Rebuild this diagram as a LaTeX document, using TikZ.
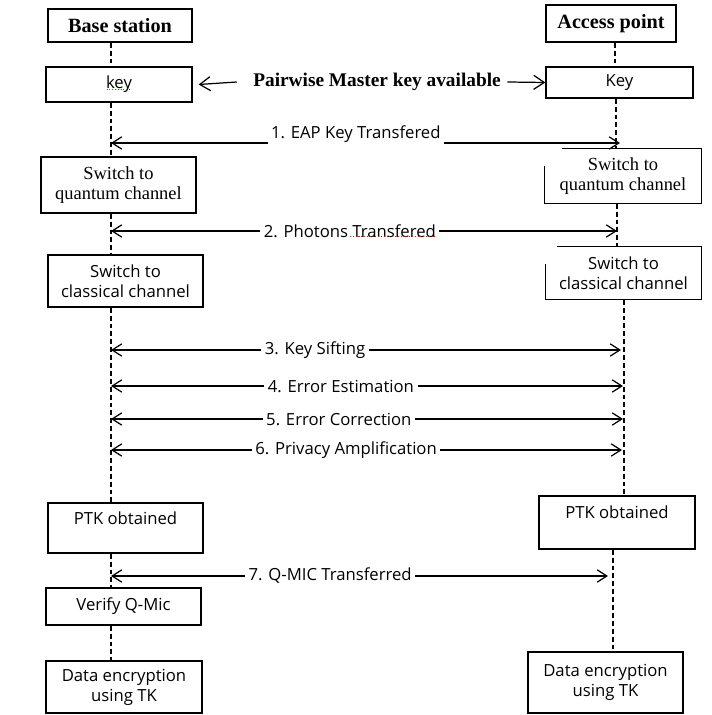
\documentclass[tikz,border=0pt]{standalone}
\usepackage{fontspec}
\setmainfont{Liberation Serif}
\newfontfamily\sansf{Open Sans}
\usetikzlibrary{arrows.meta}

\begin{document}
\begin{tikzpicture}[x=0.02cm, y=-0.02cm, line width=0.8pt,
		box/.style={draw, align=center, inner sep=1pt},
		ser/.style={font=\fontsize{10.5}{11.5}\selectfont},
		serb/.style={font=\fontsize{11.5}{13}\selectfont\bfseries},
		sans/.style={font=\sansf\fontsize{9.5}{11.5}\selectfont},
		life/.style={line width=0.7pt, dash pattern=on 2.8pt off 1.7pt},
		msg/.style={line width=0.7pt, {Straight Barb[length=5.5pt,width=7pt]}-{Straight Barb[length=5.5pt,width=7pt]}},
		tip/.style={line width=0.7pt, -{Straight Barb[length=6pt,width=8pt]}},
		lbl/.style={sans, fill=white, inner sep=2pt},
		spell/.style={line width=0.6pt, densely dotted}]

		\path[use as bounding box, fill=white] (0,0) rectangle (711,715);

		% base station side
		\node[box, serb, minimum width=2.88cm, minimum height=0.66cm] (bs) at (120,25.5) {Base station};
		\node[box, sans, minimum width=2.92cm, minimum height=0.70cm] (kb) at (119,84.5) {key};
		\node[box, ser, minimum width=3.10cm, minimum height=1.12cm] (qb) at (118.5,185) {Switch to\\quantum channel};
		\node[box, sans, minimum width=3.10cm, minimum height=1.04cm] (cb) at (125.5,281) {Switch to\\classical channel};
		\node[box, sans, minimum width=3.10cm, minimum height=1.00cm] (pb) at (125.5,528) {PTK obtained\\~};
		\node[box, sans, minimum width=3.10cm, minimum height=0.74cm] (vb) at (123.5,606.5) {Verify Q-Mic};
		\node[box, sans, minimum width=3.12cm, minimum height=1.04cm] (db) at (124,687) {Data encryption\\using TK};

		% access point side
		\node[box, serb, minimum width=2.60cm, minimum height=0.74cm] (ap) at (611,23.5) {Access point};
		\node[box, sans, minimum width=2.94cm, minimum height=0.62cm] (kr) at (619.5,82.5) {Key};
		\node[ser, align=center, inner sep=1pt, minimum width=3.12cm, minimum height=1.08cm] (qr) at (623,176) {Switch to\\quantum channel};
		\node[sans, align=center, inner sep=1pt, minimum width=3.10cm, minimum height=1.04cm] (cr) at (623.5,273) {Switch to\\classical channel};
		\node[box, sans, minimum width=3.12cm, minimum height=1.06cm] (pr) at (617,522.5) {PTK obtained\\~};
		\node[box, sans, minimum width=3.10cm, minimum height=1.22cm] (dr) at (605.5,682.5) {Data encryption\\using TK};

		% open corners
		\draw ([xshift=0.36cm]qr.north west) -- (qr.north east) -- (qr.south east) -- (qr.south west) -- ([yshift=-0.36cm]qr.north west);
		\draw ([xshift=0.24cm]cr.north west) -- (cr.north east) -- (cr.south east) -- (cr.south west) -- ([yshift=-0.36cm]cr.north west);

		% life lines
		\coordinate (ll) at (111,0);
		\coordinate (ra) at (615,0);
		\coordinate (rb) at (616,0);
		\coordinate (rc) at (617,0);
		\coordinate (rd) at (624,0);
		\coordinate (re) at (613,0);

		\draw[life] (bs.south -| ll) -- (kb.north -| ll);
		\draw[life] (kb.south -| ll) -- (qb.north -| ll);
		\draw[life] (qb.south -| ll) -- (cb.north -| ll);
		\draw[life] (cb.south -| ll) -- (pb.north -| ll);
		\draw[life] (pb.south -| ll) -- (vb.north -| ll);
		\draw[life] (vb.south -| ll) -- (db.north -| ll);

		\draw[life] (ap.south -| ra) -- (kr.north -| ra);
		\draw[life] (kr.south -| rb) -- (qr.north -| rb);
		\draw[life] (qr.south -| rc) -- (cr.north -| rc);
		\draw[life] (cr.south -| rd) -- (pr.north -| rd);
		\draw[life] (pr.south -| re) -- (dr.north -| re);

		% pairwise master key
		\node[serb, font=\fontsize{11}{13}\selectfont\bfseries] (pmk) at (377,82) {Pairwise Master key available};
		\draw[tip] ([xshift=-0.2cm]pmk.west) -- ([xshift=0.12cm]kb.east);
		\draw[tip] (pmk.east) -- (kr.west);

		% messages
		\coordinate (e1) at (620,143);
		\coordinate (e2) at (617,231);
		\coordinate (e3) at (621,350);
		\coordinate (e4) at (623,386);
		\coordinate (e5) at (623,419);
		\coordinate (e6) at (622,450);
		\coordinate (e7) at (608,576);

		\draw[msg] (ll |- e1) -- (e1) node[lbl, pos=0.481, yshift=5pt] (m1) {1. EAP Key Transfered};
		\draw[msg] (ll |- e2) -- (e2) node[lbl, pos=0.472] (m2) {2. Photons Transfered};
		\draw[msg] (ll |- e3) -- (e3) node[lbl, pos=0.400] (m3) {3. Key Sifting};
		\draw[msg] (ll |- e4) -- (e4) node[lbl, pos=0.449] (m4) {4. Error Estimation};
		\draw[msg] (ll |- e5) -- (e5) node[lbl, pos=0.445] (m5) {5. Error Correction};
		\draw[msg] (ll |- e6) -- (e6) node[lbl, pos=0.460] (m6) {6. Privacy Amplification};
		\draw[msg] (ll |- e7) -- (e7) node[lbl, pos=0.441] (m7) {7. Q-MIC Transferred};

		% spelling marks
		\draw[spell, green!60!black] ([xshift=-0.25cm, yshift=-0.1cm]kb.center) -- ([xshift=0.25cm, yshift=-0.1cm]kb.center);
		\draw[spell, red] ([xshift=-1.8cm, yshift=0.1cm]m2.south east) -- ([xshift=-0.08cm, yshift=0.1cm]m2.south east);

\end{tikzpicture}
\end{document}
